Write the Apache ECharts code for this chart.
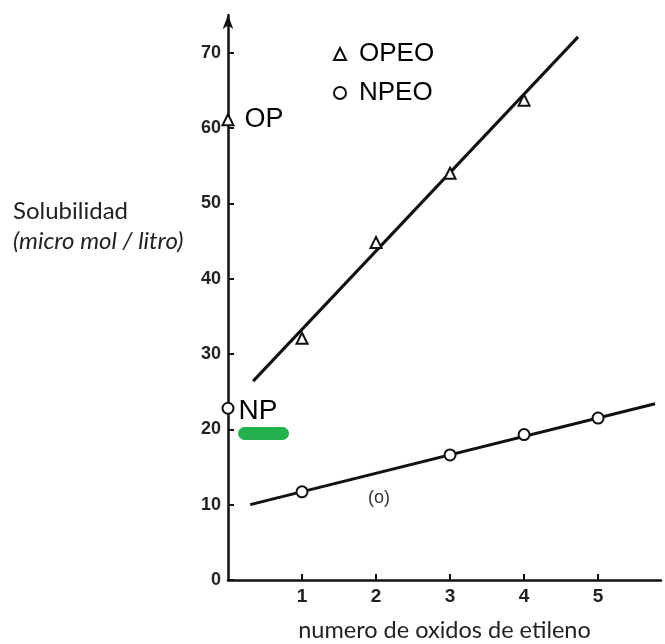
<!DOCTYPE html>
<html>
<head>
<meta charset="utf-8">
<script src="https://cdn.jsdelivr.net/npm/echarts@6/dist/echarts.min.js"></script>
<style>html,body{margin:0;padding:0;background:#fff}#c{width:665px;height:644px}</style>
</head>
<body>
<div id="c"></div>
<script>
// ---- data ----
const opeoX = [1, 2, 3, 4];
const opeoY = [32.1, 44.8, 54.0, 63.7];
const npeoX = [1, 3, 4, 5];
const npeoY = [11.7, 16.6, 19.3, 21.5];
const opPoint = [0, 61.1];
const npPoint = [0, 22.8];
const opeoFitX = [0.34, 4.73];
const opeoFitY = [26.4, 72.1];
const npeoFitX = [0.30, 5.77];
const npeoFitY = [10.0, 23.4];
const yTicks = [0, 10, 20, 30, 40, 50, 60, 70];
const xTicks = [1, 2, 3, 4, 5];
const curveTag = [2.04, 10.9];

const zip = (xs, ys) => xs.map((x, i) => [x, ys[i]]);
const ink = '#111';
const open = { color: '#fff', borderColor: ink, borderWidth: 2, opacity: 1 };
const chart = echarts.init(document.getElementById('c'));
chart.setOption({
  backgroundColor: '#fff',
  animation: false,
  grid: { left: 228, right: 4, top: 15, bottom: 64, containLabel: false, outerBoundsMode: 'none' },
  legend: {
    data: ['OPEO', 'NPEO'],
    orient: 'vertical',
    left: 333, top: 40, padding: 0,
    itemWidth: 12, itemHeight: 12, itemGap: 11,
    textStyle: { fontFamily: 'Liberation Sans', fontSize: 26, color: '#000', lineHeight: 28, padding: [0, 0, 0, 8] }
  },
  xAxis: {
    type: 'value', min: 0, max: 5.85,
    splitLine: { show: false },
    axisLine: { lineStyle: { color: ink, width: 2.5 } },
    axisTick: { inside: true, length: 6, lineStyle: { color: ink, width: 2 }, customValues: xTicks },
    axisLabel: { customValues: xTicks, margin: 7, fontFamily: 'Liberation Sans', fontSize: 19, fontWeight: 'bold', color: '#222' },
    name: 'numero de oxidos de etileno', nameLocation: 'middle', nameGap: 38,
    nameTextStyle: { fontFamily: 'Lato', fontSize: 23.5, color: '#222' }
  },
  yAxis: {
    type: 'value', min: 0, max: 75,
    splitLine: { show: false },
    axisLine: { lineStyle: { color: ink, width: 2.5 }, symbol: ['none', 'arrow'], symbolSize: [8, 14] },
    axisTick: { inside: true, length: 6, lineStyle: { color: ink, width: 2 }, customValues: yTicks },
    axisLabel: { customValues: yTicks, margin: 7, fontFamily: 'Liberation Sans', fontSize: 18, fontWeight: 'bold', color: '#222' }
  },
  series: [
    { name: 'OPEO fit', type: 'line', data: zip(opeoFitX, opeoFitY), showSymbol: false, lineStyle: { color: ink, width: 3 }, silent: true, z: 2 },
    { name: 'NPEO fit', type: 'line', data: zip(npeoFitX, npeoFitY), showSymbol: false, lineStyle: { color: ink, width: 3 }, silent: true, z: 2 },
    { name: 'OPEO', type: 'scatter', data: zip(opeoX, opeoY), symbol: 'triangle', symbolSize: 11, itemStyle: open, z: 3 },
    { name: 'NPEO', type: 'scatter', data: zip(npeoX, npeoY), symbol: 'circle', symbolSize: 11, itemStyle: open, z: 3 },
    { name: 'OP', type: 'scatter', data: [opPoint], symbol: 'triangle', symbolSize: 11, itemStyle: open, z: 4,
      label: { show: true, position: 'right', distance: 10, formatter: 'OP', fontFamily: 'Liberation Sans', fontSize: 27, color: '#000' } },
    { name: 'NP', type: 'scatter', data: [npPoint], symbol: 'circle', symbolSize: 11, itemStyle: open, z: 4,
      label: { show: true, position: 'right', distance: 4, offset: [0, 3], formatter: 'NP', fontFamily: 'Liberation Sans', fontSize: 28, color: '#000' } },
    { name: 'tag', type: 'scatter', data: [curveTag], symbol: 'circle', symbolSize: 1, z: 4,
      itemStyle: { color: 'rgba(0,0,0,0)', opacity: 1 },
      label: { show: true, position: 'inside', formatter: '(o)', fontFamily: 'Liberation Sans', fontSize: 18, color: '#333' } }
  ],
  graphic: [
    { type: 'rect', shape: { x: 238, y: 427, width: 51, height: 13, r: 6.5 }, style: { fill: '#22b14c' } },
    { type: 'text', left: 13, top: 199, style: { text: 'Solubilidad', font: '24px "Lato"', fill: '#222' } },
    { type: 'text', left: 13, top: 229, style: { text: '(micro mol / litro)', font: 'italic 24px "Lato"', fill: '#222' } }
  ]
});
</script>
</body>
</html>
